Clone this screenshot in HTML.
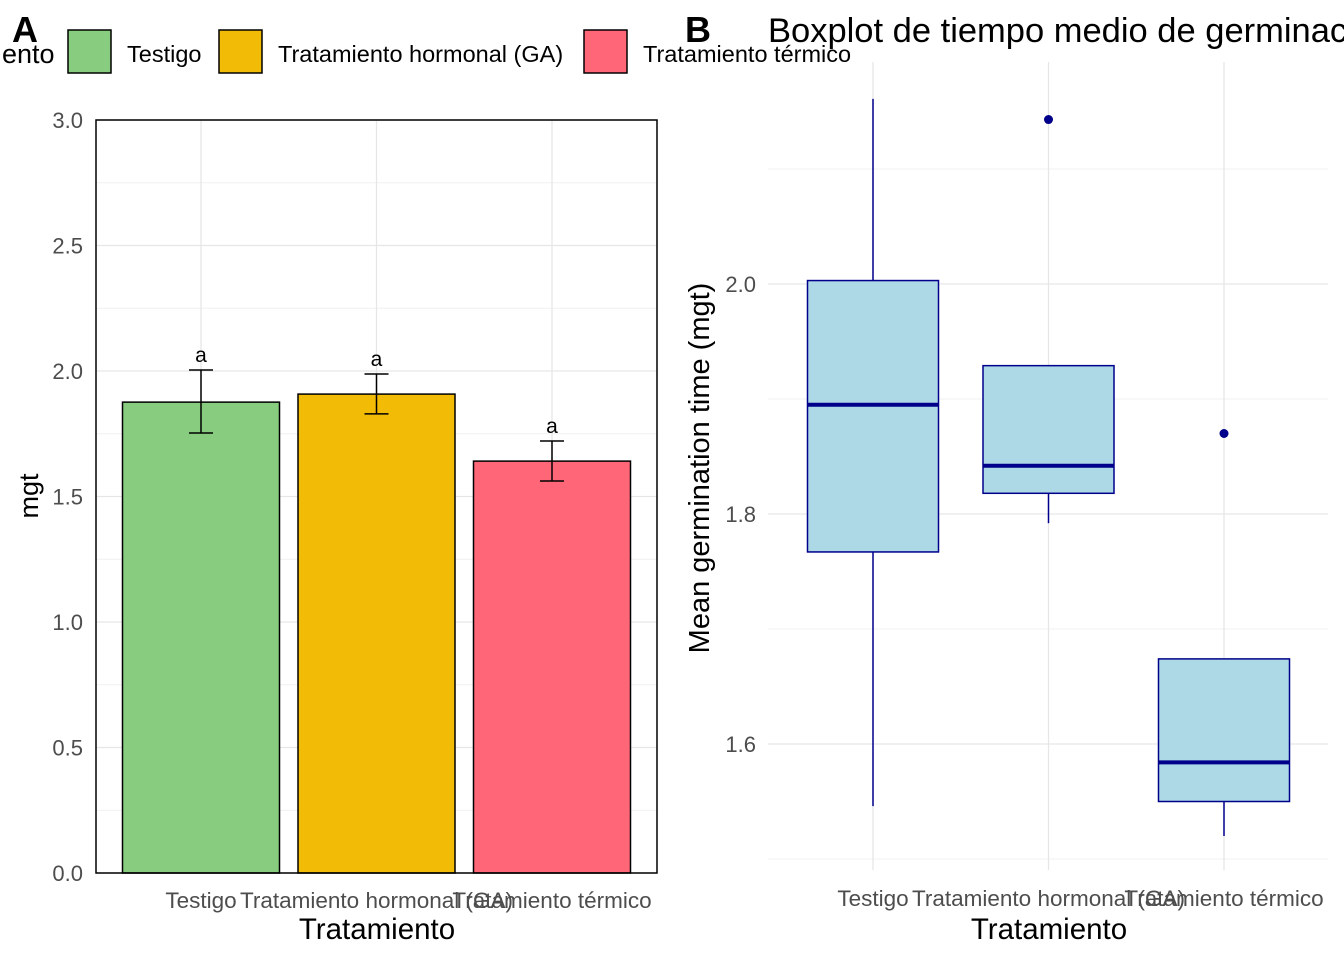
<!DOCTYPE html>
<html><head><meta charset="utf-8"><style>
body{margin:0;background:#fff;}
svg{display:block;font-family:"Liberation Sans",Arial,sans-serif;}
</style></head><body>
<svg id="chart" width="1344" height="960"></svg>
<script>
const categories = ["Testigo","Tratamiento hormonal (GA)","Tratamiento térmico"];
const barMeans = [1.876, 1.908, 1.641];
const errLow = [1.753, 1.829, 1.562];
const errHigh = [2.004, 1.988, 1.721];
const sigLetters = ["a","a","a"];
const barColors = ["#88CC7F","#F2BB05","#FF6677"];
const yTicksA = [0,0.5,1.0,1.5,2.0,2.5,3.0];
const yTickLabelsA = ["0.0","0.5","1.0","1.5","2.0","2.5","3.0"];
const boxWhiskLow = [1.546, 1.792, 1.520];
const boxQ1 = [1.767, 1.818, 1.550];
const boxMedian = [1.895, 1.842, 1.584];
const boxQ3 = [2.003, 1.929, 1.674];
const boxWhiskHigh = [2.161, 1.929, 1.674];
const boxOutliers = [[], [2.143], [1.870]];
const yTicksB = [1.6,1.8,2.0];
const yTickLabelsB = ["1.6","1.8","2.0"];
const yMinorB = [1.5,1.7,1.9,2.1];

const svg = document.getElementById('chart');
const NS = "http://www.w3.org/2000/svg";
function mk(tag, attrs, parent){ const e=document.createElementNS(NS,tag); for(const k in attrs) e.setAttribute(k,attrs[k]); (parent||svg).appendChild(e); return e; }
function txt(s, attrs, parent){ const e=mk('text',attrs,parent); e.textContent=s; return e; }

const yA = v => 873 - v*251;
const xA = i => 201 + i*175.5;
const gA = mk('g',{});
 
[0.25,0.75,1.25,1.75,2.25,2.75].forEach(v=>{ const l=mk('line',{x1:96,x2:657,y1:yA(v),y2:yA(v),stroke:'#f0f0f0','stroke-width':1},gA);   });
yTicksA.forEach(v=>{ const l=mk('line',{x1:96,x2:657,y1:yA(v),y2:yA(v),stroke:'#e6e6e6','stroke-width':1.3},gA);   });
categories.forEach((c,i)=>{ const l=mk('line',{x1:xA(i),x2:xA(i),y1:120,y2:873,stroke:'#e6e6e6','stroke-width':1.3},gA);   });
categories.forEach((c,i)=>{
  const b=mk('rect',{x:xA(i)-78.5,y:yA(barMeans[i]),width:157,height:yA(0)-yA(barMeans[i]),fill:barColors[i],stroke:'#000','stroke-width':1.5},gA);
   
  const e=mk('path',{d:`M${xA(i)-12},${yA(errHigh[i])}H${xA(i)+12}M${xA(i)},${yA(errHigh[i])}V${yA(errLow[i])}M${xA(i)-12},${yA(errLow[i])}H${xA(i)+12}`,stroke:'#000','stroke-width':1.5,fill:'none'},gA);
   
  const t=txt(sigLetters[i],{x:xA(i),y:yA(errHigh[i])-8,'text-anchor':'middle','font-size':21,fill:'#000'},gA);
   
  const xl=txt(c,{x:xA(i),y:908,'text-anchor':'middle','font-size':22.5,fill:'#4d4d4d'},gA);
   
});
const frame=mk('rect',{x:96,y:120,width:561,height:753,fill:'none',stroke:'#000','stroke-width':1.5},gA);
 
yTicksA.forEach((v,i)=>{ const t=txt(yTickLabelsA[i],{x:83,y:yA(v)+8,'text-anchor':'end','font-size':22,fill:'#4d4d4d'},gA);   });
let t;
t=txt('mgt',{transform:'translate(38,496) rotate(-90)','text-anchor':'middle','font-size':27},gA);  
t=txt('Tratamiento',{x:377,y:939,'text-anchor':'middle','font-size':29.5},gA);  

const gL=mk('g',{});  
t=txt('ento',{x:2,y:63,'font-size':27},gL);  
const legX=[68,219,584], legTX=[127,278,643];
categories.forEach((c,i)=>{
  const r=mk('rect',{x:legX[i],y:30,width:43,height:43,fill:barColors[i],stroke:'#000','stroke-width':1.5},gL);  
  const lt=txt(c,{x:legTX[i],y:62,'font-size':23.5},gL);  
});
t=txt('A',{x:12,y:42,'font-size':36,'font-weight':'bold'});  
t=txt('B',{x:685,y:42,'font-size':36,'font-weight':'bold'});  
t=txt('Boxplot de tiempo medio de germinación',{x:768,y:42,'font-size':34.5});  

const yB = v => 284 - (v-2.0)*1150;
const xB = i => 873 + i*175.5;
const gB=mk('g',{});  
yMinorB.forEach(v=>{ const l=mk('line',{x1:768,x2:1328,y1:yB(v),y2:yB(v),stroke:'#f0f0f0','stroke-width':1},gB);   });
yTicksB.forEach(v=>{ const l=mk('line',{x1:768,x2:1328,y1:yB(v),y2:yB(v),stroke:'#e6e6e6','stroke-width':1.3},gB);   });
categories.forEach((c,i)=>{ const l=mk('line',{x1:xB(i),x2:xB(i),y1:62,y2:870,stroke:'#e6e6e6','stroke-width':1.3},gB);   });
categories.forEach((c,i)=>{
  const w=mk('path',{d:`M${xB(i)},${yB(boxWhiskHigh[i])}V${yB(boxQ3[i])}M${xB(i)},${yB(boxQ1[i])}V${yB(boxWhiskLow[i])}`,stroke:'#00008B','stroke-width':1.5},gB);
   
  const b=mk('rect',{x:xB(i)-65.5,y:yB(boxQ3[i]),width:131,height:yB(boxQ1[i])-yB(boxQ3[i]),fill:'#ADD8E6',stroke:'#00008B','stroke-width':1.5},gB);
   
  const m=mk('line',{x1:xB(i)-65.5,x2:xB(i)+65.5,y1:yB(boxMedian[i]),y2:yB(boxMedian[i]),stroke:'#00008B','stroke-width':4},gB);
   
  boxOutliers[i].forEach(o=>{ const p=mk('circle',{cx:xB(i),cy:yB(o),r:4.5,fill:'#00008B'},gB);   });
  const xl=txt(c,{x:xB(i),y:906,'text-anchor':'middle','font-size':22.5,fill:'#4d4d4d'},gB);
   
});
yTicksB.forEach((v,i)=>{ const t2=txt(yTickLabelsB[i],{x:756,y:yB(v)+8,'text-anchor':'end','font-size':22,fill:'#4d4d4d'},gB);   });
t=txt('Mean germination time (mgt)',{transform:'translate(709,468) rotate(-90)','text-anchor':'middle','font-size':29},gB);  
t=txt('Tratamiento',{x:1049,y:939,'text-anchor':'middle','font-size':29.5},gB);  
</script>
</body></html>
